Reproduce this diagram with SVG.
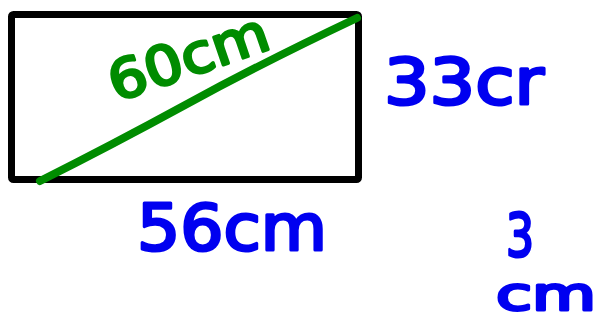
<svg xmlns="http://www.w3.org/2000/svg" width="600" height="324" viewBox="0 0 600 324">
<style>
.hw{font-family:"DejaVu Sans","Liberation Sans",sans-serif;stroke-linejoin:round;stroke-linecap:round}
.blue{fill:#0000f0;stroke:#0000f0;stroke-width:3}
.green{fill:#008c00;stroke:#008c00;stroke-width:3}
</style>
<rect width="600" height="324" fill="#fff"/>
<g id="rectangle">
<rect x="11.5" y="14.5" width="347" height="165" rx="2" fill="none" stroke="#000" stroke-width="7"/>
</g>
<g id="diagonal">
<path d="M40,181 Q110,146 187,104 T357,18" fill="none" stroke="#008c00" stroke-width="8" stroke-linecap="round" stroke-linejoin="round"/>
</g>
<g id="label-60cm">
<text class="hw green" transform="translate(188,56) rotate(-19)" x="0" y="20" font-size="54" text-anchor="middle" textLength="166" lengthAdjust="spacingAndGlyphs">60cm</text>
</g>
<g id="label-33cr">
<text class="hw blue" x="384" y="104" font-size="64" textLength="160" lengthAdjust="spacingAndGlyphs">33cr</text>
</g>
<g id="label-56cm">
<text class="hw blue" x="137" y="250" font-size="64" textLength="190" lengthAdjust="spacingAndGlyphs">56cm</text>
</g>
<g id="label-3">
<text class="hw blue" x="506" y="256" font-size="58" textLength="28" lengthAdjust="spacingAndGlyphs">3</text>
</g>
<g id="label-cm">
<text class="hw blue" x="496" y="310" font-size="46" textLength="100" lengthAdjust="spacingAndGlyphs">cm</text>
</g>
</svg>
